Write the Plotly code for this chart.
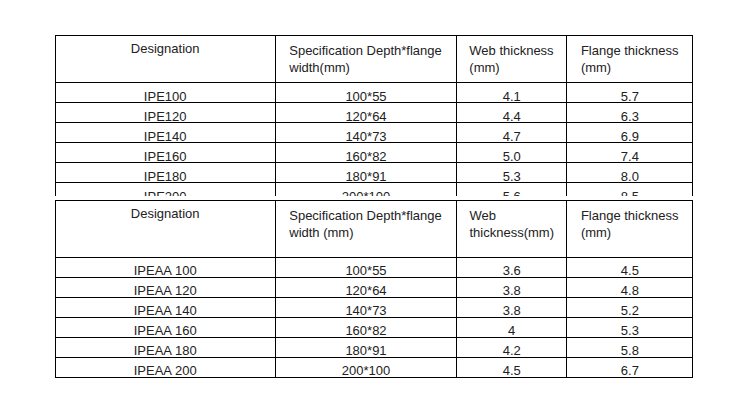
import plotly.graph_objects as go

W, H = 750, 412

head1 = ["Designation", "Specification Depth*flange<br>width(mm)", "Web thickness<br>(mm)", "Flange thickness<br>(mm)"]
des1 = ["IPE100", "IPE120", "IPE140", "IPE160", "IPE180", "IPE200"]
spec1 = ["100*55", "120*64", "140*73", "160*82", "180*91", "200*100"]
web1 = ["4.1", "4.4", "4.7", "5.0", "5.3", "5.6"]
flange1 = ["5.7", "6.3", "6.9", "7.4", "8.0", "8.5"]

head2 = ["Designation", "Specification Depth*flange<br>width (mm)", "Web<br>thickness(mm)", "Flange thickness<br>(mm)"]
des2 = ["IPEAA 100", "IPEAA 120", "IPEAA 140", "IPEAA 160", "IPEAA 180", "IPEAA 200"]
spec2 = ["100*55", "120*64", "140*73", "160*82", "180*91", "200*100"]
web2 = ["3.6", "3.8", "3.8", "4", "4.2", "4.5"]
flange2 = ["4.5", "4.8", "5.2", "5.3", "5.8", "6.7"]

col_w = [220, 181, 110, 126]
font = dict(family="Liberation Sans, Arial", size=13, color="#222")
OFF = 8  # plotly tables render shifted by ~8px


def table(head, cols, top, bottom, hh, rh):
    return go.Table(
        domain=dict(x=[(55 - OFF) / W, (693 - OFF) / W],
                    y=[1 - (bottom - OFF) / H, 1 - (top - OFF) / H]),
        columnwidth=col_w,
        header=dict(values=head, height=hh, align="center",
                    fill_color="white", line=dict(color="black", width=1), font=font),
        cells=dict(values=cols, height=rh, align="center",
                   fill_color="white", line=dict(color="black", width=1), font=font),
    )


fig = go.Figure()
fig.add_trace(table(head1, [des1, spec1, web1, flange1], 35, 196, 39, 20))
fig.add_trace(table(head2, [des2, spec2, web2, flange2], 200, 380, 57, 20))
fig.update_layout(width=W, height=H, margin=dict(l=0, r=0, t=0, b=0),
                  paper_bgcolor="white")
fig.write_html("out.html")
